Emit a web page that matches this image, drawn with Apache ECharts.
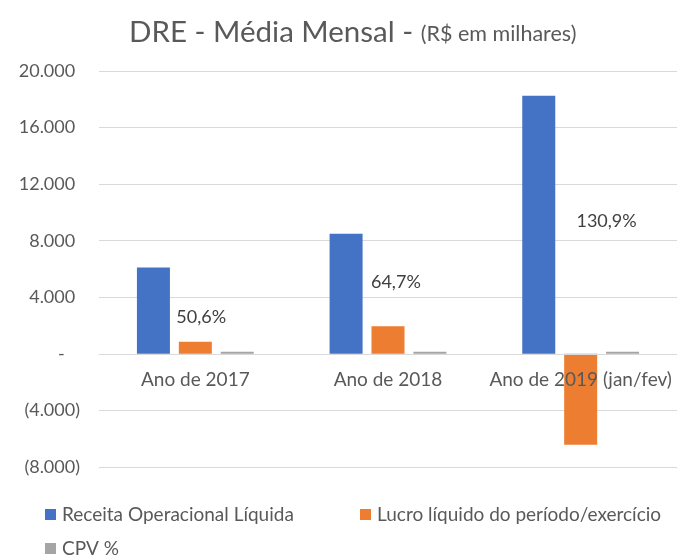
<!DOCTYPE html>
<html>
<head>
<meta charset="utf-8">
<script src="https://cdn.jsdelivr.net/npm/echarts@6/dist/echarts.min.js"></script>
<style>
  html, body { margin: 0; padding: 0; background: #fff; }
  #chart { width: 677px; height: 558px; }
</style>
</head>
<body>
<div id="chart"></div>
<script>
  // dados (R$ em milhares)
  var categories = ['Ano de 2017', 'Ano de 2018', 'Ano de 2019 (jan/fev)'];
  var receita = [6100, 8500, 18250];
  var lucro = [850, 1950, -6430];
  var cpv = [50.6, 64.7, 130.9];
  var yMin = -8000, yMax = 20000, yStep = 4000;

  var FONT = 'Lato';
  var TXT = '#595959';

  // posição manual dos rótulos de CPV % (como no Excel)
  var cpvLabelOffsets = [[-36, -21], [-34, -56], [-16, -117]];

  function milhar(v) {
    return String(Math.abs(v)).replace(/\B(?=(\d{3})+(?!\d))/g, '.');
  }

  var gridTop = 71, gridBottom = 91, plotH = 558 - gridTop - gridBottom;
  // eixo de categorias desenhado na linha do zero
  var zeroShift = plotH * (0 - yMin) / (yMax - yMin);

  var chart = echarts.init(document.getElementById('chart'));
  var option = {
    animation: false,
    color: ['#4472C4', '#ED7D31', '#A5A5A5'],
    textStyle: { fontFamily: FONT, color: TXT },
    title: {
      left: 124,
      top: 12,
      text: '{a|DRE - Média Mensal - }{b|(R$ em milhares)}',
      textStyle: {
        fontWeight: 'normal',
        rich: {
          a: { fontFamily: FONT, fontSize: 29.5, fontWeight: 'normal', color: TXT },
          b: { fontFamily: FONT, fontSize: 21.5, fontWeight: 'normal', color: TXT, padding: [5, 0, 0, 0] }
        }
      }
    },
    legend: [
      { data: ['Receita Operacional Líquida'], left: 45, top: 505 },
      { data: ['Lucro líquido do período/exercício'], left: 360, top: 505 },
      { data: ['CPV %'], left: 45, top: 539 }
    ].map(function (l) {
      l.padding = 0;
      l.itemWidth = 11;
      l.itemHeight = 11;
      l.itemGap = 6;
      l.icon = 'rect';
      l.textStyle = { fontFamily: FONT, fontSize: 19, color: TXT, padding: [0, 0, 0, 1] };
      return l;
    }),
    grid: { left: 99, right: -2, top: gridTop, bottom: gridBottom, containLabel: false },
    xAxis: {
      type: 'category',
      data: categories,
      position: 'bottom',
      offset: -zeroShift,
      z: 10,
      axisTick: { show: false },
      axisLine: { onZero: false, lineStyle: { color: '#D9D9D9', width: 1 } },
      axisLabel: { interval: 0, margin: 17, fontFamily: FONT, fontSize: 19, color: TXT }
    },
    yAxis: {
      type: 'value',
      min: yMin,
      max: yMax,
      interval: yStep,
      axisLine: { show: false },
      axisTick: { show: false },
      splitLine: { lineStyle: { color: '#D9D9D9', width: 1 } },
      axisLabel: {
        margin: 19,
        fontFamily: FONT,
        fontSize: 18,
        color: TXT,
        formatter: function (v) {
          if (v === 0) return '{t|-}{h|0)}';
          if (v < 0) return '{t|(' + milhar(v) + ')}';
          return '{t|' + milhar(v) + '}{h|)}';
        },
        rich: {
          t: { fontFamily: FONT, fontSize: 18, color: TXT },
          h: { fontFamily: FONT, fontSize: 18, color: 'rgba(0,0,0,0)' }
        }
      }
    },
    series: [
      {
        name: 'Receita Operacional Líquida',
        type: 'bar',
        barWidth: 33,
        barGap: '27%',
        data: receita
      },
      {
        name: 'Lucro líquido do período/exercício',
        type: 'bar',
        barWidth: 33,
        barGap: '27%',
        data: lucro
      },
      {
        name: 'CPV %',
        type: 'bar',
        barWidth: 33,
        barGap: '27%',
        barMinHeight: 2,
        data: cpv.map(function (v, i) {
          return {
            value: v,
            label: {
              show: true,
              position: 'top',
              offset: cpvLabelOffsets[i],
              fontFamily: FONT,
              fontSize: 18,
              color: '#404040',
              formatter: String(v).replace('.', ',') + '%'
            }
          };
        })
      }
    ]
  };
  chart.setOption(option);
</script>
</body>
</html>
